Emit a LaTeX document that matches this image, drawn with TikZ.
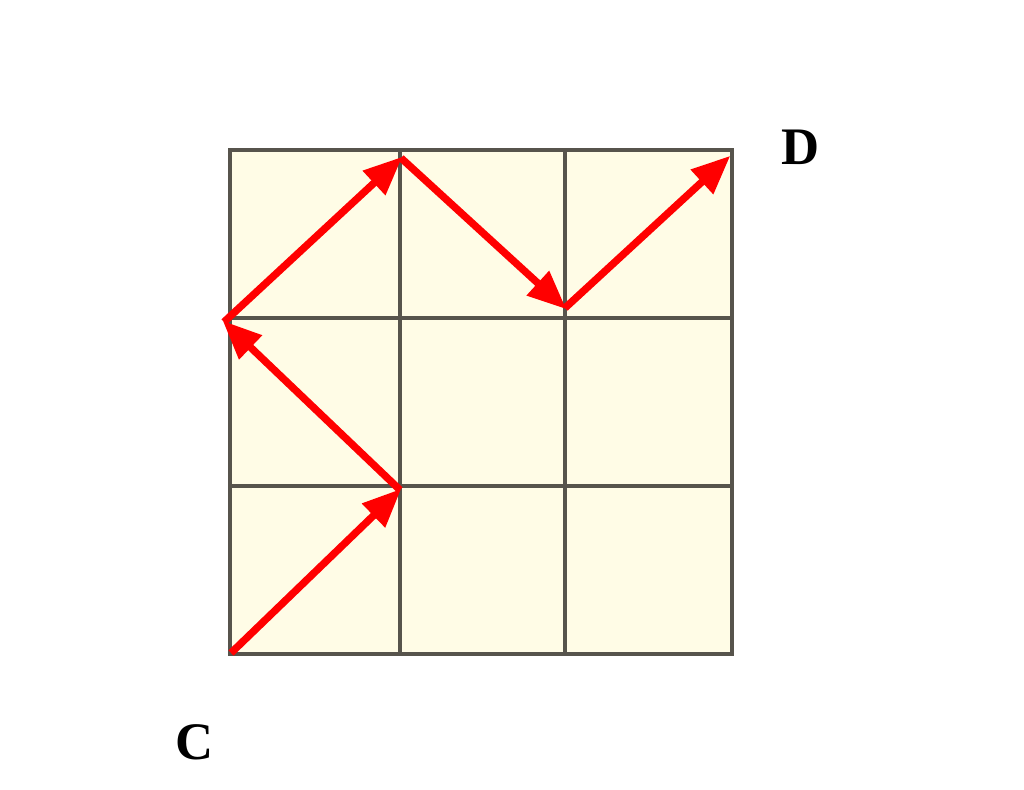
\documentclass[tikz,border=0pt]{standalone}
\usepackage{fontspec}
\setmainfont{Liberation Serif}
\usetikzlibrary{arrows.meta}
\definecolor{cellfill}{HTML}{FFFCE6}
\definecolor{gridcol}{HTML}{57544C}
\definecolor{arrred}{HTML}{FF0000}
\tikzset{
  gridline/.style={draw=gridcol, line width=2.5pt, line cap=rect},
  movearrow/.style={draw=arrred, line width=4.2pt, -{Triangle[length=22pt,width=18pt]}, shorten >=-1pt},
  ptlabel/.style={font=\fontsize{30}{34}\selectfont\bfseries, text=black, inner sep=0pt}
}
\begin{document}
\begin{tikzpicture}[x=0.02cm,y=-0.02cm]
\useasboundingbox (0,0) rectangle (1024,790);
\fill[cellfill] (230,150) rectangle (732,654);
\foreach \x in {230,400,565,732} \draw[gridline] (\x,150) -- (\x,654);
\foreach \y in {150,318,486,654} \draw[gridline] (230,\y) -- (732,\y);
\coordinate (p0) at (231,653);
\coordinate (p1) at (400,490);
\coordinate (p2) at (224,322);
\coordinate (p3) at (401,158);
\coordinate (p4) at (565,308);
\coordinate (p5) at (729,157);
\draw[movearrow] (p0) -- (p1);
\draw[movearrow] (p1) -- (p2);
\draw[movearrow] (p2) -- (p3);
\draw[movearrow] (p3) -- (p4);
\draw[movearrow] (p4) -- (p5);
\node[ptlabel] (D) at (801,147) {D};
\node[ptlabel] (C) at (195,742) {C};
\end{tikzpicture}
\end{document}
